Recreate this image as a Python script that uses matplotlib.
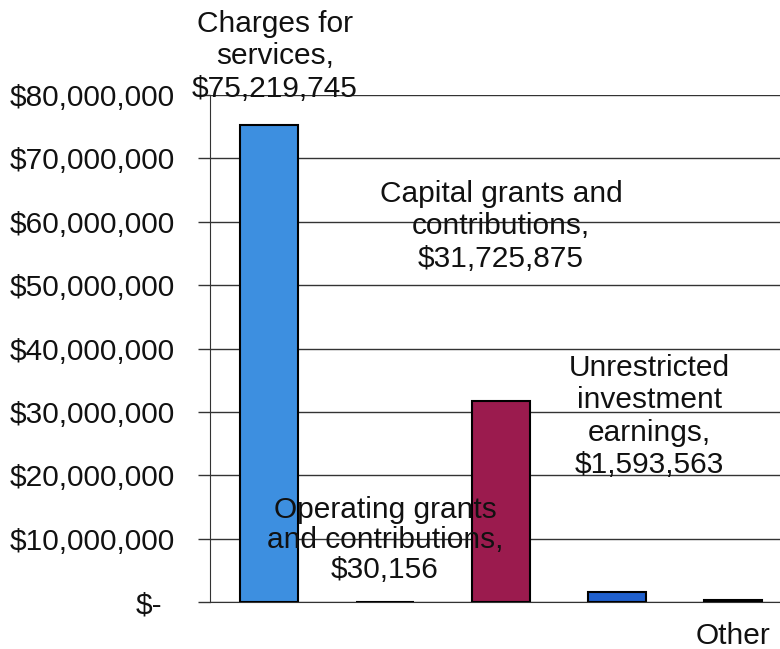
import matplotlib
matplotlib.use("Agg")
import matplotlib.pyplot as plt
from matplotlib.ticker import FixedLocator, FixedFormatter

plt.rcParams['font.family'] = ['Liberation Sans', 'DejaVu Sans']

categories = ["Charges for services", "Operating grants and contributions",
              "Capital grants and contributions", "Unrestricted investment earnings",
              "Other"]
values = [75219745, 30156, 31725875, 1593563, 250000]
label_texts = ["Charges for\nservices,\n$75,219,745",
               "Operating grants\nand contributions,\n$30,156",
               "Capital grants and\ncontributions,\n$31,725,875",
               "Unrestricted\ninvestment\nearnings,\n$1,593,563",
               "Other"]
bar_colors = ["#3d8fe0", "#3d8fe0", "#9b1b4e", "#1f5fcc", "#3d8fe0"]
ytick_values = [0, 10e6, 20e6, 30e6, 40e6, 50e6, 60e6, 70e6, 80e6]
ytick_labels = ["$-", "$10,000,000", "$20,000,000", "$30,000,000", "$40,000,000",
                "$50,000,000", "$60,000,000", "$70,000,000", "$80,000,000"]

# label anchor points (x in category units, y in dollars)
label_pos = [(0.05, 86.1e6), (1.0, 9.8e6), (2.0, 59.3e6), (3.28, 29.3e6), (4.0, -5.3e6)]
label_spacing = [1.2, 1.1, 1.2, 1.2, 1.2]

fig = plt.figure(figsize=(7.8, 6.49), dpi=100)
ax = fig.add_axes([210 / 780, 47 / 649, 1 - 210 / 780, (602 - 95) / 649])

x = list(range(len(categories)))
ax.bar(x, values, width=0.5, color=bar_colors, edgecolor="black", linewidth=1.5, zorder=3)

ax.set_xlim(-0.51, 4.405)
ax.set_ylim(0, 80e6)
ax.yaxis.set_major_locator(FixedLocator(ytick_values))
ax.yaxis.set_major_formatter(FixedFormatter(ytick_labels))
ax.set_xticks([])
ax.grid(axis="y", color="#333333", linewidth=1.0, zorder=1)
ax.set_axisbelow(True)
for side in ("top", "right"):
    ax.spines[side].set_visible(False)
ax.spines["left"].set_color("#333333")
ax.spines["bottom"].set_color("#333333")
ax.tick_params(axis="y", direction="out", length=9, width=1, color="#333333",
               labelsize=21.5, labelcolor="#111111", pad=16)

# the zero label sits a little further left
zero_lbl = ax.yaxis.get_major_ticks()[0].label1
zero_lbl.set_x(-13 / 570)

for (lx, ly), txt, ls in zip(label_pos, label_texts, label_spacing):
    ax.text(lx, ly, txt, ha="center", va="center", fontsize=21.5, color="#111111",
            linespacing=ls, zorder=5, clip_on=False)

fig.savefig("out.png", dpi=100)
